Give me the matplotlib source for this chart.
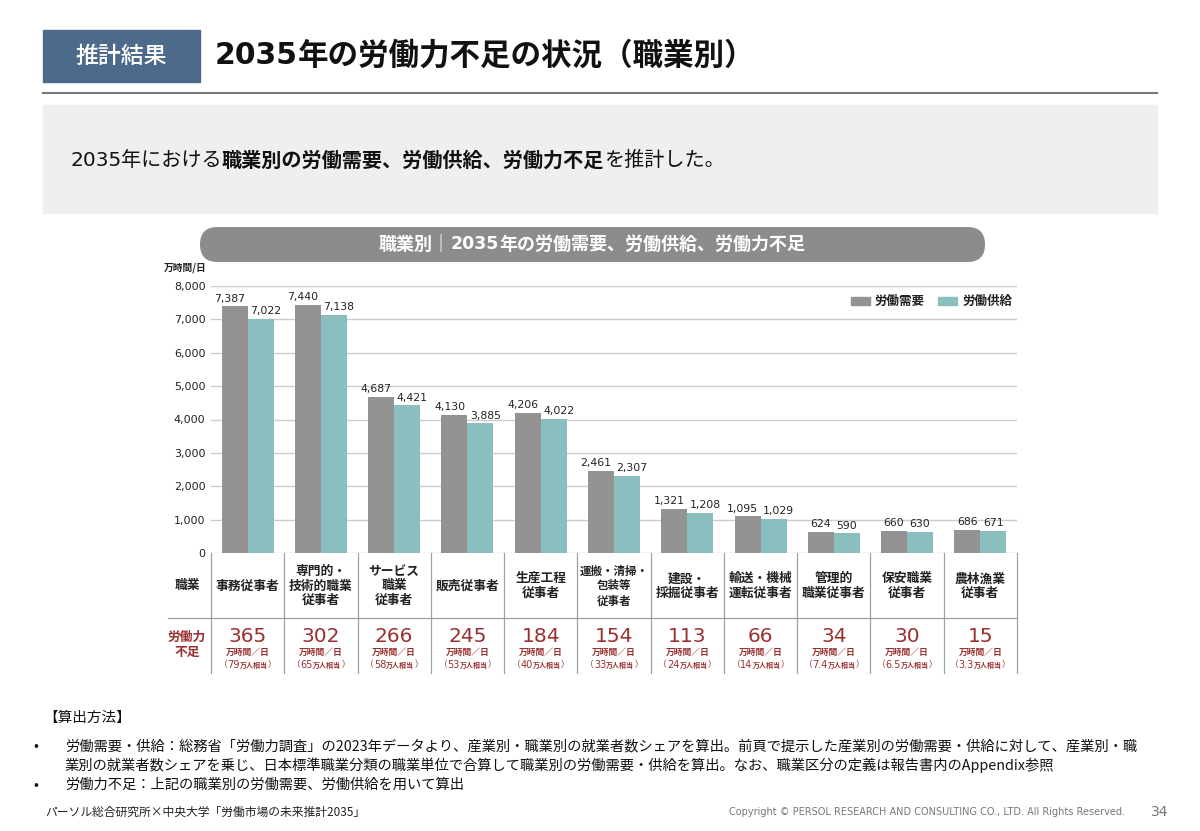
import matplotlib
matplotlib.use("Agg")
import matplotlib.pyplot as plt
from matplotlib.patches import Rectangle, FancyBboxPatch
from matplotlib.transforms import blended_transform_factory
import numpy as np

plt.rcParams['font.family'] = ['Noto Sans CJK JP', 'DejaVu Sans']

# ---------------- data ----------------
categories = ["事務従事者", "専門的・\n技術的職業\n従事者", "サービス\n職業\n従事者", "販売従事者",
              "生産工程\n従事者", "運搬・清掃・\n包装等\n従事者", "建設・\n採掘従事者",
              "輸送・機械\n運転従事者", "管理的\n職業従事者", "保安職業\n従事者", "農林漁業\n従事者"]
demand = [7387, 7440, 4687, 4130, 4206, 2461, 1321, 1095, 624, 660, 686]
supply = [7022, 7138, 4421, 3885, 4022, 2307, 1208, 1029, 590, 630, 671]
shortage = [365, 302, 266, 245, 184, 154, 113, 66, 34, 30, 15]
shortage_people = ["79", "65", "58", "53", "40", "33", "24", "14", "7.4", "6.5", "3.3"]
yticks = [0, 1000, 2000, 3000, 4000, 5000, 6000, 7000, 8000]
series_names = ["労働需要", "労働供給"]

# ---------------- styles ----------------
W, H = 1200, 831
GRAY = '#939393'
TEAL = '#8bbfbf'
RED = '#9a2f2f'
NUM = 'DejaVu Sans'

fig = plt.figure(figsize=(W / 100, H / 100), dpi=100)
over = fig.add_axes([0, 0, 1, 1])
over.set_autoscale_on(False)
over.set_xlim(0, W)
over.set_ylim(H, 0)
over.axis('off')

renderer = fig.canvas.get_renderer()


def runs(x, y, parts, ha='left', va='center'):
    objs, widths = [], []
    for t, kw in parts:
        o = over.text(0, y, t, va=va, ha='left', **kw)
        bb = o.get_window_extent(renderer)
        objs.append(o)
        widths.append(bb.width)
    total = sum(widths)
    start = x if ha == 'left' else x - total / 2
    for o, w in zip(objs, widths):
        o.set_x(start)
        start += w


# ---------------- header ----------------
over.add_patch(Rectangle((43, 30), 157, 52, color='#4d6a8a'))
over.text(121, 56, "推計結果", color='white', fontsize=16.5, weight='medium', ha='center', va='center')
runs(215, 56, [("2035", dict(fontsize=21.5, family=NUM, weight='bold', color='#111')),
               ("年の労働力不足の状況（職業別）", dict(fontsize=22, weight='bold', color='#111'))])
over.plot([43, 1157], [93, 93], color='#7a7a7a', lw=1.5)

over.add_patch(Rectangle((43, 105), 1114, 108, color='#efefef'))
runs(70, 160, [("2035", dict(fontsize=14.5, family=NUM, color='#111')),
               ("年における", dict(fontsize=14.5, color='#111')),
               ("職業別の労働需要、労働供給、労働力不足", dict(fontsize=14.5, weight='bold', color='#111')),
               ("を推計した。", dict(fontsize=14.5, color='#111'))])

over.add_patch(FancyBboxPatch((200, 227), 785, 35, boxstyle="round,pad=0,rounding_size=17.5",
                              color='#8c8c8c', lw=0))
runs(592, 244, [("職業別｜", dict(fontsize=13, weight='bold', color='white')),
                ("2035", dict(fontsize=12.5, family=NUM, weight='bold', color='white')),
                ("年の労働需要、労働供給、労働力不足", dict(fontsize=13, weight='bold', color='white'))],
     ha='center')

# ---------------- bar chart ----------------
ax = fig.add_axes([211 / W, 1 - 553 / H, 806 / W, 267 / H])
ax.patch.set_alpha(0)
x = np.arange(len(categories))
bw = 0.355
ax.bar(x - bw / 2, demand, bw, color=GRAY, zorder=2)
ax.bar(x + bw / 2, supply, bw, color=TEAL, zorder=2)
ax.set_xlim(-0.5, len(categories) - 0.5)
ax.set_ylim(0, 8000)
ax.set_yticks(yticks)
ax.set_yticklabels([f"{v:,}" for v in yticks], fontsize=8, family=NUM, color='#222')
ax.tick_params(axis='y', length=0, pad=4)
ax.set_xticks([])
for s in ax.spines.values():
    s.set_visible(False)
ax.yaxis.grid(True, color='#cccccc', lw=1.0, zorder=0)
ax.set_axisbelow(True)

for i in range(len(categories)):
    for val, sgn in ((demand[i], -1), (supply[i], 1)):
        dx = 3.5 * sgn if val >= 1000 else 0
        ax.annotate(f"{val:,}", (i + sgn * bw / 2, val), xytext=(dx, 2),
                    textcoords='offset points', ha='center', va='bottom',
                    fontsize=7.8, family=NUM, color='#222', annotation_clip=False)

over.text(207, 268, "万時間/日", fontsize=7, weight='bold', ha='right', va='center', color='#222')

# legend
over.add_patch(Rectangle((851, 297), 19, 8, color=GRAY))
over.text(874, 301, series_names[0], fontsize=9, weight='bold', va='center', color='#222')
over.add_patch(Rectangle((938, 297), 19, 8, color=TEAL))
over.text(962, 301, series_names[1], fontsize=9, weight='bold', va='center', color='#222')

# ---------------- table ----------------
trans = blended_transform_factory(ax.transData, over.transData)
for k in range(len(categories) + 1):
    xb = -0.5 + k
    over.plot([xb, xb], [553, 673], transform=trans, color='#a0a0a0', lw=0.9)
over.plot([168, 1017], [618, 618], color='#a0a0a0', lw=0.9)

over.text(187, 586, "職業", fontsize=9.2, weight='bold', ha='center', va='center', color='#222')
over.text(187, 645, "労働力\n不足", fontsize=9.2, weight='bold', ha='center', va='center',
          color=RED, linespacing=1.2)

for i, cat in enumerate(categories):
    longest = max(len(s) for s in cat.split("\n"))
    fs = 9.2 if longest <= 5 else 8.3
    over.text(i, 586, cat, transform=trans, fontsize=fs, weight='bold', ha='center',
              va='center', linespacing=1.2 if fs < 9 else 1.15, color='#222')
    over.text(i, 637, str(shortage[i]), transform=trans, fontsize=14.5, family=NUM,
              ha='center', va='center', color=RED)
    over.text(i, 652, "万時間／日", transform=trans, fontsize=6.3, weight='bold',
              ha='center', va='center', color=RED)
    px = ax.transData.transform((i, 0))[0]
    runs(px, 665, [("（", dict(fontsize=6.2, color=RED)),
                   (shortage_people[i], dict(fontsize=7, family=NUM, color=RED)),
                   ("万人相当", dict(fontsize=5, weight='bold', color=RED)),
                   ("）", dict(fontsize=6.2, color=RED))], ha='center')

# ---------------- footer ----------------
over.text(43, 718, "【算出方法】", fontsize=10.5, va='center', color='#111')
notes = ["労働需要・供給：総務省「労働力調査」の2023年データより、産業別・職業別の就業者数シェアを算出。前頁で提示した産業別の労働需要・供給に対して、産業別・職",
         "業別の就業者数シェアを乗じ、日本標準職業分類の職業単位で合算して職業別の労働需要・供給を算出。なお、職業区分の定義は報告書内のAppendix参照",
         "労働力不足：上記の職業別の労働需要、労働供給を用いて算出"]
over.text(33, 746, "•", fontsize=10.5, va='center', color='#111')
over.text(65, 746, notes[0], fontsize=10.3, va='center', color='#111')
over.text(65, 765, notes[1], fontsize=10.3, va='center', color='#111')
over.text(33, 785, "•", fontsize=10.5, va='center', color='#111')
over.text(65, 785, notes[2], fontsize=10.3, va='center', color='#111')

over.text(45, 812, "パーソル総合研究所×中央大学「労働市場の未来推計2035」", fontsize=8.5,
          va='center', color='#222')
over.text(1125, 812, "Copyright © PERSOL RESEARCH AND CONSULTING CO., LTD. All Rights Reserved.",
          fontsize=7, family=NUM, ha='right', va='center', color='#777')
over.text(1160, 812, "34", fontsize=10, family=NUM, ha='center', va='center', color='#777')

over.set_xlim(0, W)
over.set_ylim(H, 0)
fig.savefig("out.png", dpi=100)
